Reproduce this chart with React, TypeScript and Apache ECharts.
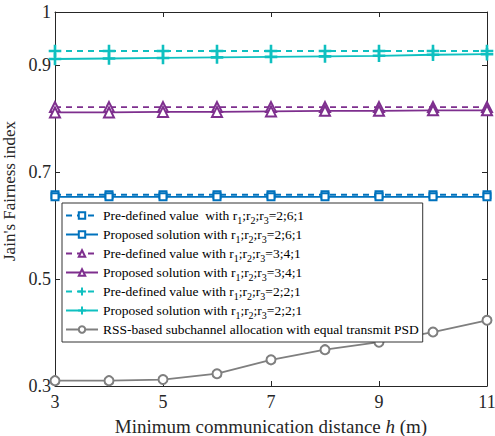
import React, { useEffect, useRef } from "react";
import * as echarts from "echarts";

const distances = [3, 4, 5, 6, 7, 8, 9, 10, 11];
const xTicks = [3, 5, 7, 9, 11];
const yTicks = [0.3, 0.5, 0.7, 0.9, 1];

const preDefined261 = [0.658, 0.658, 0.658, 0.658, 0.658, 0.658, 0.658, 0.658, 0.658];
const proposed261 = [0.654, 0.654, 0.654, 0.654, 0.654, 0.654, 0.654, 0.654, 0.654];
const preDefined341 = [0.822, 0.822, 0.822, 0.822, 0.822, 0.822, 0.822, 0.822, 0.822];
const proposed341 = [0.812, 0.812, 0.813, 0.813, 0.814, 0.815, 0.815, 0.816, 0.816];
const preDefined221 = [0.927, 0.927, 0.927, 0.927, 0.927, 0.927, 0.927, 0.927, 0.927];
const proposed221 = [0.912, 0.913, 0.914, 0.915, 0.916, 0.917, 0.918, 0.920, 0.921];
const rssBased = [0.310, 0.310, 0.312, 0.323, 0.349, 0.368, 0.382, 0.401, 0.423];

const names = [
  "Pre-defined value  with r1;r2;r3=2;6;1",
  "Proposed solution with r1;r2;r3=2;6;1",
  "Pre-defined value with r1;r2;r3=3;4;1",
  "Proposed solution with r1;r2;r3=3;4;1",
  "Pre-defined value with r1;r2;r3=2;2;1",
  "Proposed solution with r1;r2;r3=2;2;1",
  "RSS-based subchannel allocation with equal transmit PSD",
];

const BLUE = "#0072BD";
const PURPLE = "#7E2F8E";
const CYAN = "#0FC0C0";
const GRAY = "#7F7F7F";
const AXIS = "#262626";
const FONT = "Liberation Serif";
const PLUS = "path://M-0.09,-1 L0.09,-1 L0.09,-0.09 L1,-0.09 L1,0.09 L0.09,0.09 L0.09,1 L-0.09,1 L-0.09,0.09 L-1,0.09 L-1,-0.09 L-0.09,-0.09 Z";

function mk(name: string, values: number[], color: string, dashed: boolean, symbol: string, size: number) {
  return {
    name,
    type: "line",
    data: distances.map((d, i) => [d, values[i]]),
    symbol,
    symbolSize: size,
    clip: false,
    lineStyle: { color, width: 1.8, type: dashed ? [6, 5] : "solid" },
    itemStyle: { color, borderColor: color, borderWidth: 1.6 },
    emphasis: { disabled: true },
  };
}

export default function App() {
  const ref = useRef<HTMLDivElement>(null);
  useEffect(() => {
    if (!ref.current) return;
    const chart = echarts.init(ref.current, null, { renderer: "svg" });
    const axisCommon = {
      axisLine: { show: true, onZero: false, lineStyle: { color: AXIS, width: 1 } },
      splitLine: { show: false },
    };
    chart.setOption({
      animation: false,
      backgroundColor: "#fff",
      textStyle: { fontFamily: FONT },
      grid: { left: 55, right: 8, top: 12, bottom: 50, containLabel: false, outerBoundsMode: "none" },
      xAxis: [
        {
          ...axisCommon,
          type: "value",
          min: 3,
          max: 11,
          interval: 1,
          position: "bottom",
          name: "{n|Minimum communication distance }{i|h}{n| (m)}",
          nameLocation: "middle",
          nameGap: 31,
          nameTextStyle: {
            fontFamily: FONT,
            rich: {
              n: { fontFamily: FONT, fontSize: 19, color: AXIS },
              i: { fontFamily: FONT, fontSize: 19, color: AXIS, fontStyle: "italic" },
            },
          },
          axisTick: { show: true, inside: true, length: 5, customValues: xTicks, lineStyle: { color: AXIS } },
          axisLabel: { customValues: xTicks, fontFamily: FONT, fontSize: 18, color: AXIS, margin: 7 },
        },
        {
          ...axisCommon,
          type: "value",
          min: 3,
          max: 11,
          interval: 1,
          position: "top",
          axisTick: { show: true, inside: true, length: 5, customValues: xTicks, lineStyle: { color: AXIS } },
          axisLabel: { show: false },
        },
      ],
      yAxis: [
        {
          ...axisCommon,
          type: "value",
          min: 0.3,
          max: 1,
          interval: 0.1,
          position: "left",
          name: "{n|Jain's Fairness index}",
          nameLocation: "middle",
          nameGap: 32,
          nameTextStyle: {
            fontFamily: FONT,
            padding: [0, 0, 0, 16],
            rich: { n: { fontFamily: FONT, fontSize: 17, color: AXIS } },
          },
          axisTick: { show: true, inside: true, length: 5, customValues: yTicks, lineStyle: { color: AXIS } },
          axisLabel: {
            customValues: yTicks,
            fontFamily: FONT,
            fontSize: 18,
            color: AXIS,
            margin: 4,
            formatter: (v: number) => String(Math.round(v * 10) / 10),
          },
        },
        {
          ...axisCommon,
          type: "value",
          min: 0.3,
          max: 1,
          interval: 0.1,
          position: "right",
          axisTick: { show: true, inside: true, length: 5, customValues: yTicks, lineStyle: { color: AXIS } },
          axisLabel: { show: false },
        },
      ],
      legend: {
        orient: "vertical",
        left: 62,
        top: 203,
        z: 10,
        backgroundColor: "#fff",
        borderColor: "#333",
        borderWidth: 1,
        borderRadius: 0,
        padding: [3, 4, 3, 3],
        itemGap: 0,
        itemWidth: 32,
        itemHeight: 8,
        itemStyle: { borderWidth: 1.4 },
        data: names,
        formatter: (n: string) => n.replace(/r(\d)/g, "r{s|$1}"),
        textStyle: {
          fontFamily: FONT,
          fontSize: 13.5,
          lineHeight: 19,
          color: "#000",
          rich: {
            s: { fontFamily: FONT, fontSize: 10, lineHeight: 10, color: "#000", verticalAlign: "bottom" },
          },
        },
      },
      series: [
        mk(names[6], rssBased, GRAY, false, "emptyCircle", 9),
        mk(names[0], preDefined261, BLUE, true, "emptyRect", 7),
        mk(names[1], proposed261, BLUE, false, "emptyRect", 7),
        mk(names[2], preDefined341, PURPLE, true, "emptyTriangle", 10),
        mk(names[3], proposed341, PURPLE, false, "emptyTriangle", 10),
        mk(names[4], preDefined221, CYAN, true, PLUS, 11),
        mk(names[5], proposed221, CYAN, false, PLUS, 11),
      ],
    });
    return () => chart.dispose();
  }, []);
  return (
    <div
      ref={ref}
      style={{ position: "fixed", left: 0, top: 0, width: 495, height: 436 }}
    />
  );
}
